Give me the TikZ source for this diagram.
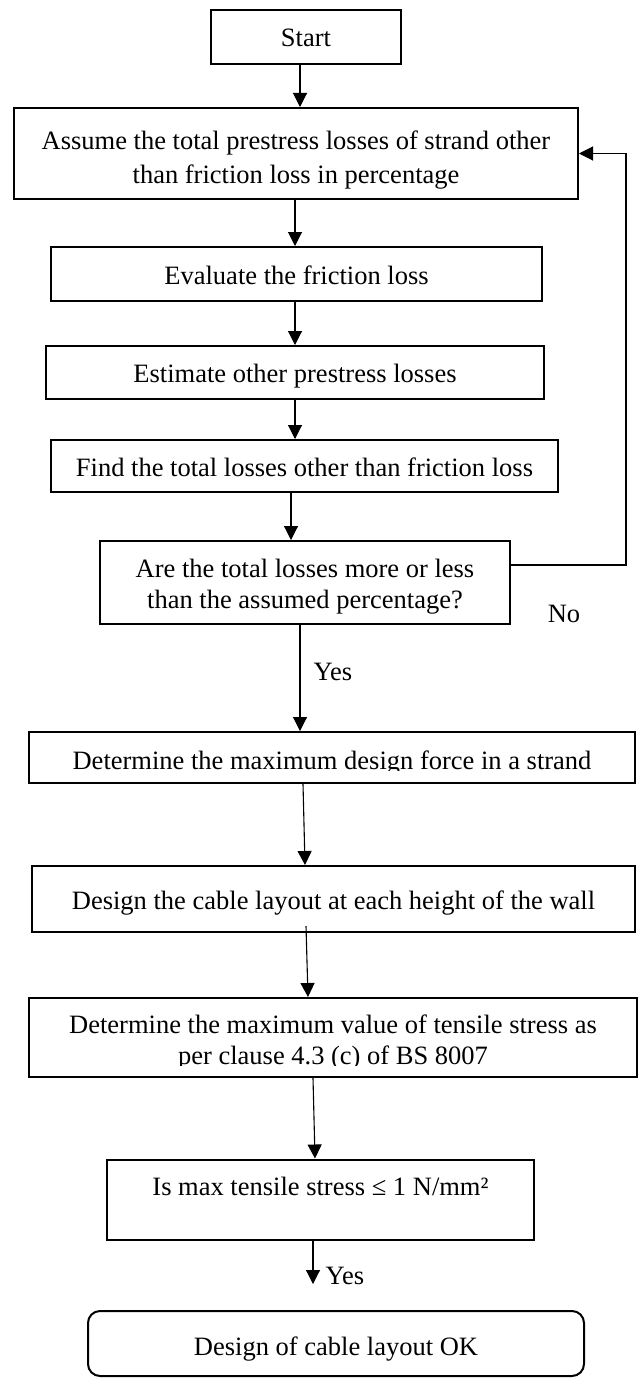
\documentclass[tikz,border=0pt]{standalone}
\usepackage{fontspec}
\setmainfont{Liberation Serif}
\usetikzlibrary{arrows.meta,calc}
\begin{document}
\begin{tikzpicture}[x=1pt,y=-1pt,
  pbox/.style={draw=black, line width=2pt, inner sep=0pt, align=center,
    font=\fontsize{26.5}{34}\selectfont, text height=20pt, text depth=0pt},
  conn/.style={draw=black, line width=1.1pt, -{Triangle[length=14pt,width=14pt]}},
  lbl/.style={inner sep=0pt, anchor=base, font=\fontsize{26.5}{32}\selectfont}]
\fill[white] (0,0) rectangle (639,1378);
\useasboundingbox (0,0) rectangle (639,1378);

% boxes
\node[pbox, minimum width=190pt, minimum height=54pt] (start) at (306,37) {Start};
\node[pbox, minimum width=564pt, minimum height=91pt, text height=59pt, text depth=0pt,
  font=\fontsize{26.5}{34}\selectfont] (assume) at (296,153.5)
  {Assume the total prestress losses of strand other\\than friction loss in percentage};
\node[pbox, minimum width=491pt, minimum height=54pt] (eval) at (296.5,274) {Evaluate the friction loss};
\node[pbox, minimum width=498pt, minimum height=53pt] (est) at (295,372.5) {Estimate other prestress losses};
\node[pbox, minimum width=507pt, minimum height=52pt] (find) at (304.5,466) {Find the total losses other than friction loss};
\node[pbox, minimum width=410pt, minimum height=83pt, text height=51.6pt, text depth=0pt,
  font=\fontsize{26.5}{31}\selectfont] (are) at (305,582.5)
  {Are the total losses more or less\\than the assumed percentage?};
\node[pbox, minimum width=606pt, minimum height=51pt, text height=23pt] (force) at (332,757.5)
  {Determine the maximum design force in a strand};
\node[pbox, minimum width=603pt, minimum height=66pt] (design) at (333.5,899)
  {Design the cable layout at each height of the wall};
\node[pbox, minimum width=608pt, minimum height=79pt, text height=53pt, text depth=0pt,
  font=\fontsize{26.5}{31}\selectfont] (maxv) at (333,1037.5)
  {Determine the maximum value of tensile stress as\\per clause 4.3 (c) of BS 8007};
\node[pbox, minimum width=427pt, minimum height=80pt, text depth=28pt] (is) at (320.5,1199.5)
  {Is max tensile stress ≤ 1 N/mm²};
\node[pbox, rounded corners=12pt, minimum width=496pt, minimum height=65pt, text height=23pt] (ok) at (336,1343.5)
  {Design of cable layout OK};

% clipped text bottoms (as printed)
\fill[white] (40,770.5) rectangle (624,781.5);
\fill[white] (40,1065.5) rectangle (626,1075.5);

% labels
\node[lbl] (no) at (564,622.7) {No};
\node[lbl] (yes1) at (333,680) {Yes};
\node[lbl] (yes2) at (345,1284) {Yes};

% connectors
\draw[conn] ([xshift=-6pt]start.south) -- ([xshift=-6pt]start.south |- assume.north);
\draw[conn] ([xshift=-1pt]assume.south) -- ([xshift=-1pt]assume.south |- eval.north);
\draw[conn] ([xshift=-1.5pt]eval.south) -- ([xshift=-1.5pt]eval.south |- est.north);
\draw[conn] (est.south) -- (est.south |- find.north);
\draw[conn] ([xshift=-13.5pt]find.south) -- ([xshift=-13.5pt]find.south |- are.north);
\draw[conn] ([xshift=-5pt]are.south) -- ([xshift=-5pt]are.south |- force.north);
\draw[conn] ([xshift=-29pt]force.south) -- ([xshift=-28.5pt]design.north);
\draw[conn] ([xshift=-27.5pt,yshift=7pt]design.south) -- ([xshift=-25pt]maxv.north);
\draw[conn] ([xshift=-20pt]maxv.south) -- ([xshift=-5.5pt]is.north);
\coordinate (tip) at (313,1284);
\draw[conn] ([xshift=-7.5pt]is.south) -- (tip);
\draw[conn] ([yshift=17.5pt]are.east) -- ++(115,0) |- (assume.east);
\end{tikzpicture}
\end{document}
